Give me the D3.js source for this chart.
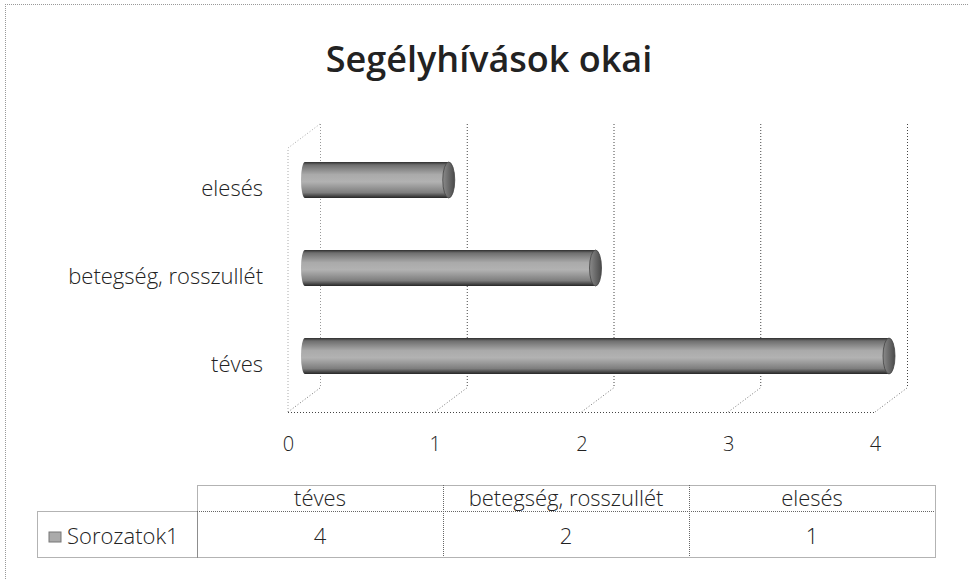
<!DOCTYPE html>
<html>
<head>
<meta charset="utf-8">
<script src="https://cdn.jsdelivr.net/npm/d3@7"></script>
<style>
  body { margin: 0; background: #fff; }
  svg text { font-family: 'Open Sans', 'Noto Sans', sans-serif; fill: #222; }
</style>
</head>
<body>
<div id="chart"></div>
<script>
const title = 'Segélyhívások okai';
const seriesName = 'Sorozatok1';
const categories = ['téves', 'betegség, rosszullét', 'elesés'];
const values = [4, 2, 1];
const xTicks = [0, 1, 2, 3, 4];

const width = 969;
const height = 580;

// 3d box: back wall and front edge of the floor
const back = { left: 320, right: 907, top: 124, bottom: 388 };
const depth = { dx: -32, dy: 24 };

const svg = d3.select('#chart')
  .append('svg')
  .attr('width', width)
  .attr('height', height);

const defs = svg.append('defs');
const grad = defs.append('linearGradient')
  .attr('id', 'cyl')
  .attr('x1', 0).attr('y1', 0).attr('x2', 0).attr('y2', 1);
[[0, '#2e2e2e'], [0.08, '#6e6e6e'], [0.35, '#aaaaaa'], [0.55, '#b2b2b2'], [0.85, '#7e7e7e'], [1, '#262626']]
  .forEach(([o, c]) => grad.append('stop').attr('offset', o).attr('stop-color', c));
const capGrad = defs.append('linearGradient')
  .attr('id', 'cap')
  .attr('x1', 0).attr('y1', 0).attr('x2', 1).attr('y2', 0);
[[0, '#8a8a8a'], [1, '#4a4a4a']]
  .forEach(([o, c]) => capGrad.append('stop').attr('offset', o).attr('stop-color', c));

// chart frame (scan shows top and left edges)
const frame = svg.append('g')
  .attr('stroke', '#999')
  .attr('stroke-dasharray', '1,1')
  .attr('fill', 'none');
frame.append('line').attr('x1', 5).attr('x2', width).attr('y1', 4.5).attr('y2', 4.5);
frame.append('line').attr('x1', 5.5).attr('x2', 5.5).attr('y1', 4).attr('y2', height);

svg.append('text')
  .attr('x', 489)
  .attr('y', 72)
  .attr('text-anchor', 'middle')
  .style('font-size', '36px')
  .style('font-weight', 600)
  .text(title);

const xBack = d3.scaleLinear([0, 4], [back.left, back.right]);
const xFront = d3.scaleLinear([0, 4], [back.left + depth.dx, back.right + depth.dx]);
const xMid = d3.scaleLinear([0, 4], [back.left + depth.dx / 2 - 2, back.right + depth.dx / 2 - 2]);
const y = d3.scaleBand()
  .domain(categories.slice().reverse())
  .range([back.top, back.bottom]);

// walls and grid
const grid = svg.append('g')
  .attr('fill', 'none')
  .attr('stroke-dasharray', '1,2');

grid.selectAll('.vline')
  .data(xTicks)
  .join('line')
  .attr('stroke', (d) => (d === 0 ? '#999' : '#444'))
  .attr('x1', (d) => xBack(d) + 0.5)
  .attr('x2', (d) => xBack(d) + 0.5)
  .attr('y1', back.top)
  .attr('y2', back.bottom);

grid.selectAll('.floor')
  .data(xTicks)
  .join('line')
  .attr('stroke', '#777')
  .attr('x1', (d) => xBack(d))
  .attr('y1', back.bottom)
  .attr('x2', (d) => xFront(d))
  .attr('y2', back.bottom + depth.dy);

grid.append('line')
  .attr('stroke', '#444')
  .attr('x1', xFront(0)).attr('x2', xFront(4))
  .attr('y1', back.bottom + depth.dy + 0.5).attr('y2', back.bottom + depth.dy + 0.5);

// left wall
grid.append('path')
  .attr('stroke', '#aaa')
  .attr('d', `M${xBack(0)},${back.top}L${xFront(0)},${back.top + depth.dy}L${xFront(0)},${back.bottom + depth.dy}`);

// bars as cylinders
const bars = svg.append('g')
  .selectAll('g')
  .data(categories.map((c, i) => ({ c, v: values[i] })))
  .join('g')
  .attr('transform', (d) => `translate(0,${y(d.c) + y.bandwidth() / 2 + 12})`);

const barH = 36;
const capR = 6;

bars.append('ellipse')
  .attr('cx', xMid(0) + 3)
  .attr('cy', 0)
  .attr('rx', 4)
  .attr('ry', barH / 2)
  .attr('fill', 'url(#cyl)');

bars.append('rect')
  .attr('x', xMid(0) + 3)
  .attr('y', -barH / 2)
  .attr('width', (d) => xMid(d.v) - xMid(0) - 3)
  .attr('height', barH)
  .attr('fill', 'url(#cyl)');

bars.append('ellipse')
  .attr('cx', (d) => xMid(d.v))
  .attr('cy', 0)
  .attr('rx', capR)
  .attr('ry', barH / 2)
  .attr('fill', 'url(#cap)')
  .attr('stroke', '#444')
  .attr('stroke-width', 0.8);

// category labels
svg.append('g')
  .selectAll('text')
  .data(categories)
  .join('text')
  .attr('x', 263)
  .attr('y', (d) => y(d) + y.bandwidth() / 2 + 20)
  .attr('dy', '0.35em')
  .attr('text-anchor', 'end')
  .style('font-size', '22px')
  .style('font-weight', 300)
  .text((d) => d);

// value axis
const axis = svg.append('g')
  .attr('transform', `translate(0,${back.bottom + depth.dy + 22})`)
  .call(d3.axisBottom(xFront).tickValues(xTicks).tickSize(0).tickFormat(d3.format('d')));
axis.select('.domain').remove();
axis.selectAll('text')
  .attr('fill', '#222')
  .style('font-size', '20px')
  .style('font-weight', 300)
  .style('font-family', "'Open Sans', 'Noto Sans', sans-serif");

// data table
const col = d3.scaleBand().domain(categories).range([197, 935]);
const table = { top: 485, mid: 511, bottom: 557, legendLeft: 37 };

const tb = svg.append('g')
  .attr('fill', 'none')
  .attr('stroke', '#666')
  .attr('stroke-dasharray', '1,1');
tb.append('rect')
  .attr('x', col.range()[0] + 0.5).attr('y', table.top + 0.5)
  .attr('width', col.range()[1] - col.range()[0]).attr('height', table.bottom - table.top);
tb.append('rect')
  .attr('x', table.legendLeft + 0.5).attr('y', table.mid + 0.5)
  .attr('width', col.range()[0] - table.legendLeft).attr('height', table.bottom - table.mid);
tb.append('line')
  .attr('x1', col.range()[0]).attr('x2', col.range()[1])
  .attr('y1', table.mid + 0.5).attr('y2', table.mid + 0.5);
tb.selectAll('.sep')
  .data(categories.slice(1))
  .join('line')
  .attr('x1', (d) => col(d) + 0.5).attr('x2', (d) => col(d) + 0.5)
  .attr('y1', table.top).attr('y2', table.bottom);

svg.append('g')
  .selectAll('text')
  .data(categories)
  .join('text')
  .attr('x', (d) => col(d) + col.bandwidth() / 2)
  .attr('y', (table.top + table.mid) / 2)
  .attr('dy', '0.35em')
  .attr('text-anchor', 'middle')
  .style('font-size', '22px')
  .style('font-weight', 300)
  .text((d) => d);

svg.append('g')
  .selectAll('text')
  .data(values)
  .join('text')
  .attr('x', (d, i) => col(categories[i]) + col.bandwidth() / 2)
  .attr('y', (table.mid + table.bottom) / 2 + 2)
  .attr('dy', '0.35em')
  .attr('text-anchor', 'middle')
  .style('font-size', '22px')
  .style('font-weight', 300)
  .text((d) => d);

svg.append('rect')
  .attr('x', 49).attr('y', 532)
  .attr('width', 12).attr('height', 10)
  .attr('fill', '#aaa')
  .attr('stroke', '#777');

svg.append('text')
  .attr('x', 67)
  .attr('y', (table.mid + table.bottom) / 2 + 2)
  .attr('dy', '0.35em')
  .style('font-size', '22px')
  .style('font-weight', 300)
  .text(seriesName);
</script>
</body>
</html>
